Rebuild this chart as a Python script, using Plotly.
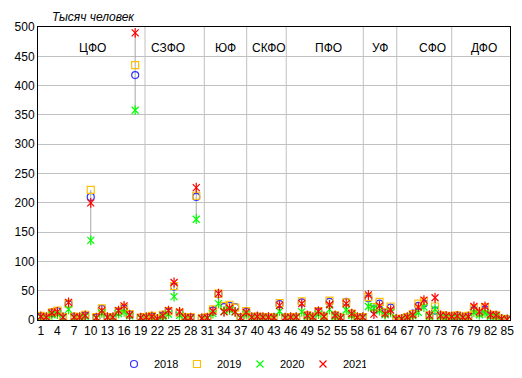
import plotly.graph_objects as go

regions = list(range(1, 86))

y2018 = [6, 5, 12, 15, 5, 27, 5, 5, 8, 210, 4, 19, 5, 5, 14, 20, 9, 418,
         4, 5, 6, 2, 8, 14, 57, 12, 4, 4, 210,
         3, 4, 16, 44, 22, 24, 22, 4,
         14, 5, 6, 5, 5, 4, 27,
         4, 5, 5, 30, 8, 5, 14, 6, 31, 8, 4, 31, 11, 5,
         5, 37, 18, 28, 12, 21,
         2, 2, 5, 11, 24, 28, 8, 16, 8, 7,
         6, 7, 5, 6, 17, 12, 18, 8, 8, 2, 1]
y2019 = [7, 5, 13, 16, 5, 28, 6, 5, 9, 222, 5, 20, 5, 5, 15, 21, 10, 435,
         4, 5, 7, 2, 9, 15, 58, 12, 4, 5, 212,
         3, 5, 18, 45, 24, 26, 21, 5,
         15, 5, 6, 5, 5, 4, 29,
         4, 5, 5, 32, 8, 5, 15, 6, 33, 8, 4, 30, 11, 5,
         5, 39, 22, 31, 13, 23,
         2, 2, 5, 10, 28, 32, 8, 23, 8, 7,
         6, 8, 5, 7, 20, 12, 22, 9, 8, 2, 1]
y2020 = [5, 4, 9, 10, 4, 18, 4, 4, 6, 136, 3, 12, 4, 4, 11, 14, 7, 358,
         3, 4, 5, 1, 6, 10, 40, 8, 3, 3, 172,
         2, 3, 11, 28, 15, 17, 14, 3,
         10, 4, 5, 4, 4, 3, 15,
         3, 4, 4, 14, 6, 4, 10, 5, 18, 6, 3, 17, 8, 4,
         4, 23, 20, 16, 9, 13,
         1, 1, 4, 7, 13, 22, 6, 18, 6, 5,
         4, 5, 4, 5, 13, 9, 12, 6, 6, 1, 1]
y2021 = [6, 5, 12, 14, 5, 30, 5, 5, 8, 200, 4, 16, 5, 5, 16, 24, 9, 490,
         4, 5, 6, 2, 8, 16, 64, 14, 4, 4, 226,
         3, 4, 15, 45, 14, 20, 14, 4,
         13, 5, 6, 5, 5, 4, 25,
         4, 5, 5, 28, 8, 5, 15, 6, 26, 8, 4, 28, 11, 5,
         5, 43, 10, 24, 11, 17,
         2, 2, 5, 9, 22, 34, 8, 38, 8, 7,
         6, 7, 5, 6, 23, 14, 23, 9, 8, 2, 1]

years = ["2018", "2019", "2020", "2021"]
districts = ["ЦФО", "СЗФО", "ЮФ", "СКФО", "ПФО", "УФ", "СФО", "ДФО"]
district_label_x = [10.3, 23.9, 34.3, 42.1, 52.8, 62.1, 71.6, 80.9]
divider_x = [19.77, 30.45, 38.08, 45.2, 59.08, 65.1, 75.0]
x_ticks = list(range(1, 86, 3))

FONT = "Liberation Sans, Arial, sans-serif"
fig = go.Figure()

# high-low lines
hx, hy = [], []
for i, r in enumerate(regions):
    vals = [y2018[i], y2019[i], y2020[i], y2021[i]]
    hx += [r, r, None]
    hy += [min(vals), max(vals), None]
fig.add_trace(go.Scatter(x=hx, y=hy, mode="lines", line=dict(color="#a6a6a6", width=1),
                         showlegend=False, hoverinfo="skip"))

fig.add_trace(go.Scatter(x=regions, y=y2018, mode="markers", name="2018",
                         marker=dict(symbol="circle-open", size=7, color="#3333ff", line=dict(width=1.2))))
fig.add_trace(go.Scatter(x=regions, y=y2019, mode="markers", name="2019",
                         marker=dict(symbol="square-open", size=7, color="#ffc000", line=dict(width=1.2))))
for name, ys, col in [("2020", y2020, "#00ff00"), ("2021", y2021, "#ff0000")]:
    fig.add_trace(go.Scatter(x=regions, y=ys, mode="markers", name=name, legendgroup=name,
                             marker=dict(symbol="x-thin-open", size=7, color=col, line=dict(width=1.2, color=col))))
    fig.add_trace(go.Scatter(x=regions, y=ys, mode="markers", name=name, legendgroup=name, showlegend=False,
                             marker=dict(symbol="line-ns-open", size=7, color=col, line=dict(width=1.2, color=col))))

shapes = []
for dx in divider_x:
    shapes.append(dict(type="line", xref="x", yref="y", x0=dx, x1=dx, y0=0, y1=500,
                       line=dict(color="#c0c0c0", width=1), layer="below"))

annotations = [dict(text="<i>Тысяч человек</i>", xref="paper", yref="paper", x=0.026, y=1.005,
                    xanchor="left", yanchor="bottom", showarrow=False,
                    font=dict(size=12, color="black", family=FONT))]
for d, lx in zip(districts, district_label_x):
    annotations.append(dict(text=d, xref="x", yref="y", x=lx, y=464, showarrow=False,
                            xanchor="center", yanchor="middle",
                            font=dict(size=12, color="black", family=FONT)))

fig.update_layout(
    width=522, height=378,
    margin=dict(l=38, r=12, t=27, b=58, autoexpand=False),
    paper_bgcolor="white", plot_bgcolor="white",
    font=dict(family=FONT, size=12, color="black"),
    shapes=shapes, annotations=annotations,
    legend=dict(orientation="h", x=0.161, xanchor="left", yref="container", y=0.037, yanchor="middle",
                font=dict(size=11, family=FONT), itemwidth=30, entrywidth=18,
                bgcolor="rgba(0,0,0,0)"),
)
fig.update_xaxes(range=[0.5, 85.5], tickmode="array", tickvals=x_ticks,
                 ticktext=[str(t) for t in x_ticks], showgrid=False, zeroline=False,
                 showline=True, linecolor="black", linewidth=1, mirror=True, ticks="",
                 tickfont=dict(size=12, family=FONT), automargin=False)
fig.update_yaxes(range=[0, 500], dtick=50, showgrid=True, gridcolor="#c0c0c0", gridwidth=1,
                 zeroline=False, showline=True, linecolor="black", linewidth=1, mirror=True,
                 ticks="", tickfont=dict(size=12, family=FONT), automargin=False)

fig.write_html("out.html", config={"displayModeBar": False},
               post_script="document.body.style.margin='0';")
